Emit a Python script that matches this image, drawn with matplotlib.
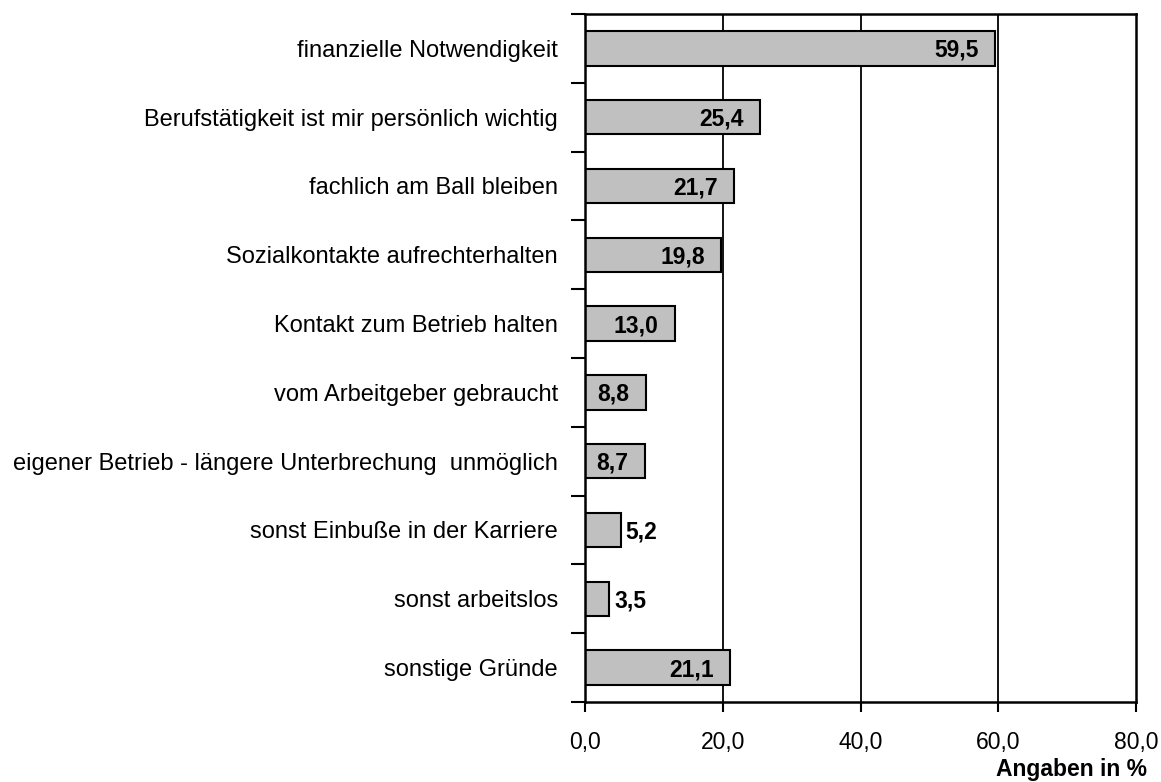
import matplotlib
matplotlib.use('Agg')
import matplotlib.pyplot as plt
from matplotlib.ticker import FixedLocator, FuncFormatter
import numpy as np

plt.rcParams['font.family'] = ['Liberation Sans', 'DejaVu Sans']

categories = ['finanzielle Notwendigkeit',
              'Berufstätigkeit ist mir persönlich wichtig',
              'fachlich am Ball bleiben',
              'Sozialkontakte aufrechterhalten',
              'Kontakt zum Betrieb halten',
              'vom Arbeitgeber gebraucht',
              'eigener Betrieb - längere Unterbrechung  unmöglich',
              'sonst Einbuße in der Karriere',
              'sonst arbeitslos',
              'sonstige Gründe']
values = [59.5, 25.4, 21.7, 19.8, 13.0, 8.8, 8.7, 5.2, 3.5, 21.1]
xticks = [0, 20, 40, 60, 80]

FS = 16.5

fig = plt.figure(figsize=(11.61, 7.82), dpi=100)
ax = fig.add_axes([585/1161, 1 - 702/782, 551/1161, 688/782])

y = np.arange(len(categories))
ax.barh(y, values, height=0.5, color='#c0c0c0', edgecolor='black', linewidth=1.5, zorder=3)

for v in xticks[1:-1]:
    ax.axvline(v, color='black', linewidth=1.3, zorder=1)

for yi, v in zip(y, values):
    lab = ('%.1f' % v).replace('.', ',')
    if v >= 8:
        ax.text(v - 2.4, yi + 0.03, lab, ha='right', va='center', fontsize=FS,
                fontweight='bold', zorder=4)
    else:
        ax.text(v + 0.7, yi + 0.03, lab, ha='left', va='center', fontsize=FS,
                fontweight='bold', zorder=4)

ax.set_xlim(0, 80)
ax.set_ylim(len(categories) - 0.5, -0.5)
ax.set_xticks(xticks)
ax.xaxis.set_major_formatter(FuncFormatter(lambda x, p: ('%.1f' % x).replace('.', ',')))
ax.tick_params(axis='x', direction='out', length=7, width=1.5, labelsize=FS, pad=14)

ax.set_yticks(y)
ax.set_yticklabels(categories)
ax.yaxis.set_minor_locator(FixedLocator(np.arange(-0.5, len(categories), 1)))
ax.tick_params(axis='y', which='major', length=0, labelsize=17, pad=19.5)
ax.tick_params(axis='y', which='minor', direction='out', length=10, width=1.5)

for s in ax.spines.values():
    s.set_linewidth(1.8)
    s.set_zorder(5)

fig.text(1147/1161, 1 - 776/782, 'Angaben in %', ha='right', va='baseline',
         fontsize=FS, fontweight='bold')

fig.savefig('out.png', dpi=100)
